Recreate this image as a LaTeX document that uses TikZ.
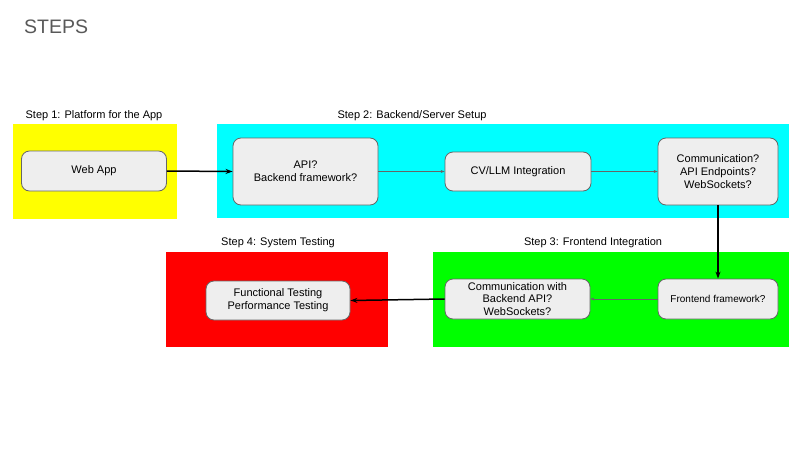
\documentclass[tikz,border=0pt]{standalone}
\usepackage{fontspec}
\setmainfont{Liberation Sans}
\usetikzlibrary{arrows.meta}
\definecolor{boxfill}{HTML}{EEEEEE}
\definecolor{boxline}{HTML}{666666}
\definecolor{titlegray}{HTML}{595959}
\definecolor{cyanbg}{HTML}{00FFFF}
\definecolor{greenbg}{HTML}{00FF00}
\definecolor{redbg}{HTML}{FF0000}
\definecolor{yellowbg}{HTML}{FFFF00}
\tikzset{
  stepbox/.style={draw=boxline, line width=0.8pt, fill=boxfill, rounded corners=8pt, align=center, font=\fontsize{11}{13}\selectfont, inner sep=0pt},
  steplabel/.style={font=\fontsize{11}{13}\selectfont, anchor=center},
  thickarrow/.style={-{Stealth[length=7pt,width=5pt]}, line width=1.5pt, black},
  thinarrow/.style={-{Stealth[length=4pt,width=3pt]}, line width=0.6pt, boxline},
}
\begin{document}
\begin{tikzpicture}[x=1pt,y=-1pt]
\useasboundingbox (0,0) rectangle (800,450);
\fill[white] (0,0) rectangle (800,450);
% title
\node[anchor=west, inner sep=0pt, text=titlegray, font=\fontsize{19.5}{22}\selectfont] (title) at (24,27) {STEPS};
% regions
\fill[yellowbg] (13,124) rectangle (177,219);
\fill[cyanbg] (217,124) rectangle (789,218);
\fill[redbg] (166,252) rectangle (388,347);
\fill[greenbg] (433,252) rectangle (789,347);
% region labels
\node[steplabel] (l1) at (94,116) {Step 1: Platform for the App};
\node[steplabel] (l2) at (412,116) {Step 2: Backend/Server Setup};
\node[steplabel] (l3) at (593,243) {Step 3: Frontend Integration};
\node[steplabel] (l4) at (278,243) {Step 4: System Testing};
% boxes
\node[stepbox, minimum width=145pt, minimum height=40pt] (web) at (94,171) {Web App};
\node[stepbox, minimum width=145pt, minimum height=67pt] (api) at (305.5,171.5) {API?\\Backend framework?};
\node[stepbox, minimum width=146pt, minimum height=39pt] (cv) at (518,171.5) {CV/LLM Integration};
\node[stepbox, minimum width=120pt, minimum height=67pt] (comm) at (718,171.5) {Communication?\\API Endpoints?\\WebSockets?};
\node[stepbox, minimum width=120pt, minimum height=40pt, font=\fontsize{10}{12}\selectfont] (fe) at (718,299) {Frontend framework?};
\node[stepbox, minimum width=145pt, minimum height=40pt, font=\fontsize{11}{12.5}\selectfont] (cwb) at (517.5,299) {Communication with\\Backend API?\\WebSockets?};
\node[stepbox, minimum width=144pt, minimum height=39pt] (test) at (278,300.5) {Functional Testing\\Performance Testing};
% arrows
\draw[thickarrow] (web.east) -- (api.west);
\draw[thinarrow] (api.east) -- (cv.west);
\draw[thinarrow] (cv.east) -- (comm.west);
\draw[thickarrow] (comm.south) -- (fe.north);
\draw[thinarrow] (fe.west) -- (cwb.east);
\draw[thickarrow] (cwb.west) -- (test.east);
\end{tikzpicture}
\end{document}
